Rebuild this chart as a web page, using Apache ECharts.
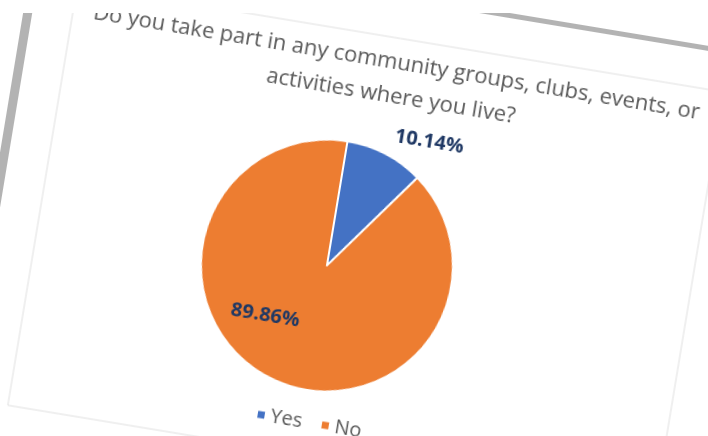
<!DOCTYPE html>
<html>
<head>
<meta charset="utf-8">
<script src="https://cdn.jsdelivr.net/npm/echarts@6/dist/echarts.min.js"></script>
<style>
  html, body { margin: 0; padding: 0; background: #fff; }
  #stage { position: relative; width: 708px; height: 436px; overflow: hidden; background: #fff; }
  /* the chart sheet sits tilted on the page */
  #chart {
    position: absolute; left: 28.2px; top: -83.6px;
    width: 775px; height: 520px;
    transform-origin: 0 0; transform: rotate(9.4deg);
  }
  #topEdge { position: absolute; left: 0; top: 0; width: 708px; height: 13px; background: #fff; z-index: 2; }
</style>
</head>
<body>
<div id="stage">
  <div id="chart"></div>
  <div id="topEdge"></div>
</div>
<script>
// Survey answers (percent of respondents)
const categories = ['Yes', 'No'];
const shares = [10.14, 89.86];
const titleText = 'Do you take part in any community groups, clubs, events, or\nactivities where you live?';

const colors = ['#4472C4', '#ED7D31'];
// nudges for the value labels, relative to their default inside spot
const labelNudge = [[60, -76], [-32, -3]];

const chart = echarts.init(document.getElementById('chart'), null, { renderer: 'canvas' });

chart.setOption({
  backgroundColor: 'transparent',
  animation: false,
  color: colors,
  title: {
    text: titleText,
    left: 'center',
    top: 68,
    padding: 0,
    textStyle: {
      fontFamily: 'Open Sans',
      fontSize: 22,
      fontWeight: 'normal',
      lineHeight: 34,
      color: '#595959'
    }
  },
  legend: {
    data: categories,
    left: 301,
    top: 439,
    icon: 'rect',
    itemWidth: 9,
    itemHeight: 9,
    itemGap: 18,
    textStyle: { fontFamily: 'Open Sans', fontSize: 20, color: '#595959' }
  },
  graphic: [
    // page frame strokes
    { type: 'rect', shape: { x: 11, y: 17, width: 800, height: 5 }, style: { fill: '#b3b3b3' }, silent: true },
    { type: 'rect', shape: { x: 11, y: 17, width: 9, height: 520 }, style: { fill: '#b3b3b3' }, silent: true },
    // chart area border
    { type: 'rect', shape: { x: 60, y: 60, width: 655, height: 426 }, style: { fill: '#fff', stroke: '#e0e0e0', lineWidth: 1 }, silent: true, z: -1 }
  ],
  series: [{
    type: 'pie',
    center: [352, 296],
    radius: 126,
    startAngle: 90,
    clockwise: true,
    avoidLabelOverlap: false,
    itemStyle: { borderColor: '#fff', borderWidth: 2 },
    label: {
      show: true,
      position: 'inside',
      formatter: p => p.value.toFixed(2) + '%',
      fontFamily: 'Open Sans',
      fontSize: 20,
      fontWeight: 'bold',
      color: '#1F3864'
    },
    labelLine: { show: false },
    labelLayout: p => ({ dx: labelNudge[p.dataIndex][0], dy: labelNudge[p.dataIndex][1] }),
    emphasis: { disabled: true },
    data: categories.map((name, i) => ({ name, value: shares[i] }))
  }]
});
</script>
</body>
</html>
